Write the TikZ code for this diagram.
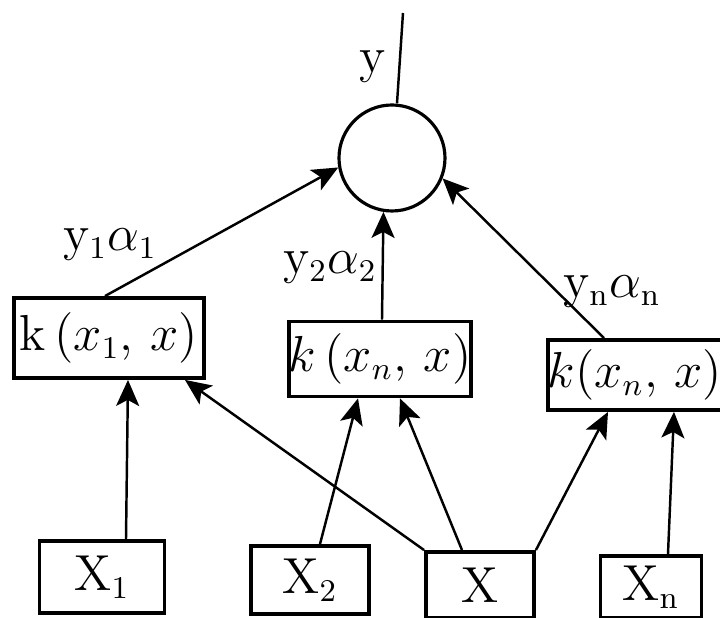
\documentclass[tikz,border=0pt]{standalone}
\usepackage{amsmath}
\usepackage{amssymb}
\usetikzlibrary{arrows.meta}

\begin{document}
\begin{tikzpicture}[
        x=0.1mm, y=-0.1mm,
        font=\fontsize{13.5}{16}\selectfont,
        kbox/.style={rectangle, draw=black, line width=1.1pt, inner sep=0pt},
        inbox/.style={rectangle, draw=black, line width=1.1pt, inner sep=0pt},
        sum/.style={circle, draw=black, line width=0.9pt, minimum size=10.6mm, inner sep=0pt},
        wlabel/.style={inner sep=0pt},
        edge/.style={-{Stealth[length=2.6mm, width=2.3mm, inset=0.6mm]}, line width=0.7pt}
    ]
        \useasboundingbox (0,0) rectangle (720,618);

        % Nodes
        \node[sum] (c) at (392, 158) {};
        \coordinate (out) at (403, 13);
        \node[wlabel] (ylab) at (373, 67) {$\mathrm{y}$};

        \node[kbox, minimum width=19mm, minimum height=8mm] (k1) at (109, 338) {$\mathrm{k}\,(x_1,\,x)$};
        \node[kbox, minimum width=18mm, minimum height=7.5mm] (k2) at (380, 359) {$k\,(x_n,\,x)$};
        \node[kbox, minimum width=16.2mm, minimum height=7mm] (k3) at (635, 375) {$k(x_n,\,x)$};

        \node[wlabel] (a1) at (110, 245) {$\mathrm{y}_1\alpha_1$};
        \node[wlabel] (a2) at (330, 268) {$\mathrm{y}_2\alpha_2$};
        \node[wlabel] (an) at (612, 292) {$\mathrm{y}_\mathrm{n}\alpha_\mathrm{n}$};

        \node[inbox, minimum width=12.5mm, minimum height=7.2mm] (x1) at (102, 577) {$\mathrm{X}_1$};
        \node[inbox, minimum width=11.8mm, minimum height=6.8mm] (x2) at (310, 580) {$\mathrm{X}_2$};
        \node[inbox, minimum width=10.8mm, minimum height=6.6mm] (x) at (480, 585) {$\mathrm{X}$};
        \node[inbox, minimum width=10.1mm, minimum height=6.2mm] (xn) at (651, 587) {$\mathrm{X}_\mathrm{n}$};

        % Edges
        \draw[line width=0.7pt] ([xshift=0.5mm]c.north) -- (out);
        \draw[edge] ([xshift=-0.4mm]k1.north) -- (c.190);
        \draw[edge] ([xshift=0.2mm]k2.north) -- (c.261);
        \draw[edge] ([xshift=-3.1mm]k3.north) -- (c.338);

        \draw[edge] ([xshift=2.4mm]x1.north) -- ([xshift=1.9mm]k1.south);
        \draw[edge] (x.north west) -- ([xshift=7.6mm]k1.south);
        \draw[edge] ([xshift=1mm]x2.north) -- ([xshift=-2.2mm]k2.south);
        \draw[edge] ([xshift=-1.8mm]x.north) -- ([xshift=2mm]k2.south);
        \draw[edge] (x.north east) -- ([xshift=-2.7mm]k3.south);
        \draw[edge] ([xshift=1.7mm]xn.north) -- ([xshift=3.9mm]k3.south);

    \end{tikzpicture}
\end{document}
